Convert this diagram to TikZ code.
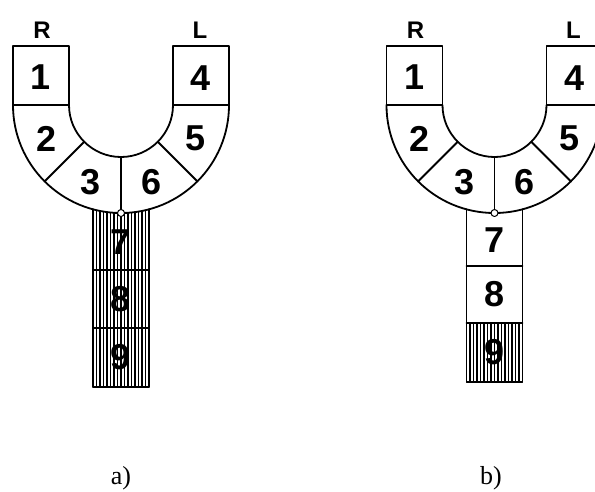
\documentclass[tikz,border=0pt]{standalone}
\usepackage{fontspec}
\setmainfont{Liberation Serif}
\newfontfamily\digfont{Liberation Sans}
\begin{document}
\begin{tikzpicture}[x=1pt,y=1pt,line join=round,line cap=round,
  part/.style={line width=1.8pt},
  hatch/.style={line width=1.3pt},
  num/.style={font=\digfont\bfseries\fontsize{36}{40}\selectfont,inner sep=0pt},
  side/.style={font=\digfont\bfseries\fontsize{24}{28}\selectfont,inner sep=0pt},
  tag/.style={font=\fontsize{26}{30}\selectfont,inner sep=0pt,anchor=base}]
 \def\ro{108}\def\ri{52}\def\w{28}\def\yc{105}\def\ytop{46}
 \useasboundingbox (0,0) rectangle (595,-491);
 \clip (0,0) rectangle (595,-491);
 \foreach \cx/\tg/\hy/\ya/\yb/\yd/\tx in {121/a/0/270/328/387/121, 494.5/b/323/266/323/382/491}{
  % hatched cells of the stem
  \foreach \i in {0,...,16}
   \draw[hatch] ({\cx-\w+3.5*\i},{min(-\yc-sqrt(\ro*\ro-(3.5*\i-\w)^2),-\hy)}) -- ({\cx-\w+3.5*\i},-\yd);
  % U shaped part
  \draw[part] (\cx-\ro,-\ytop) rectangle (\cx-\ri,-\yc)
              (\cx+\ri,-\ytop) rectangle (\cx+\ro,-\yc);
  \draw[part] (\cx-\ro,-\yc) arc[start angle=180,end angle=360,radius=\ro pt]
   -- (\cx+\ri,-\yc) arc[start angle=0,end angle=-180,radius=\ri pt] -- cycle;
  \foreach \a in {225,270,315}
   \draw[part] ([shift={(\a:\ri)}]\cx,-\yc) -- ([shift={(\a:\ro)}]\cx,-\yc);
  % stem
  \draw[part] (\cx-\w,{-\yc-sqrt(\ro*\ro-\w*\w)}) -- (\cx-\w,-\yd)
   -- (\cx+\w,-\yd) -- (\cx+\w,{-\yc-sqrt(\ro*\ro-\w*\w)});
  \draw[part] (\cx-\w,-\ya) -- (\cx+\w,-\ya) (\cx-\w,-\yb) -- (\cx+\w,-\yb);
  \draw[line width=1pt,fill=white] (\cx,-\yc-\ro) circle[radius=3.5pt];
  % labels
  \node[side] (\tg R) at (\cx-79,-30) {R};
  \node[side] (\tg L) at (\cx+79,-30) {L};
  \node[num] (\tg1) at (\cx-80,-77) {1};
  \node[num] (\tg4) at (\cx+80,-78) {4};
  \foreach \n/\a in {2/203,3/248,6/292,5/337}
   \node[num] (\tg\n) at ([shift={(\a:81)}]\cx,-\yc-2) {\n};
  \node[num] (\tg7) at (\cx,{-(215+\ya)/2}) {7};
  \node[num] (\tg8) at (\cx,{-(\ya+\yb)/2}) {8};
  \node[num] (\tg9) at (\cx,{-(\yb+\yd)/2}) {9};
  \node[tag] (\tg) at (\tx,-484) {\tg)};
 }
\end{tikzpicture}
\end{document}
